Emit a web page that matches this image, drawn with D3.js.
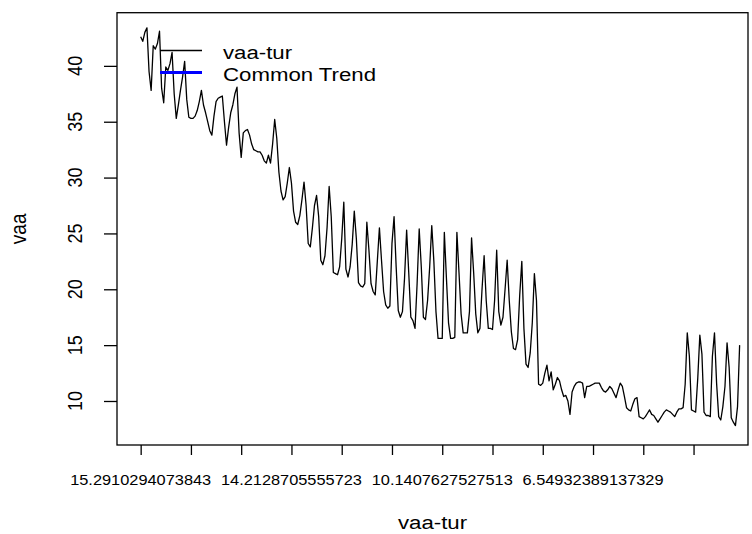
<!DOCTYPE html>
<html>
<head>
<meta charset="utf-8">
<script src="https://cdn.jsdelivr.net/npm/d3@7"></script>
<style>
  body { margin: 0; background: #fff; }
  text { font-family: "Liberation Sans", Arial, sans-serif; fill: #000; }
</style>
</head>
<body>
<div id="graphic"></div>
<script>
// series, one value per step
var vaa = [
  42.6, 42.2, 43.0, 43.4, 39.5, 37.8, 41.8, 41.5, 42.0, 43.1,
  38.0, 36.7, 39.9, 39.6, 40.2, 41.2, 37.5, 35.3, 36.5, 37.8,
  39.0, 40.4, 37.0, 35.4, 35.3, 35.3, 35.5, 36.0, 36.8, 37.8,
  36.5, 35.8, 35.0, 34.2, 33.8, 35.5, 36.8, 37.1, 37.2, 37.3,
  35.0, 32.9, 34.5, 35.8, 36.5, 37.5, 38.1, 34.0, 31.8, 34.0,
  34.2, 34.3, 33.8, 33.0, 32.5, 32.4, 32.3, 32.3, 32.0, 31.5,
  31.3, 32.0, 31.3, 33.0, 35.2, 33.5, 30.5, 28.8, 28.0, 28.3,
  29.5, 30.9, 29.5, 27.0, 26.0, 25.8, 26.6, 28.0, 29.6, 27.5,
  24.1, 23.8, 25.5, 27.5, 28.4, 26.5, 22.6, 22.2, 23.0, 25.5,
  29.2, 26.5, 21.5, 21.4, 21.3, 22.0, 24.5, 27.8, 21.8, 21.1,
  22.0, 24.0, 27.0, 24.5, 20.6, 20.3, 20.2, 20.5, 26.0, 23.5,
  20.5, 19.8, 19.5, 22.5, 25.5, 22.6, 19.8, 18.6, 18.3, 18.5,
  24.1, 26.5, 22.0, 18.1, 17.5, 18.0, 21.0, 25.3, 21.5, 17.5,
  17.2, 16.5, 20.5, 25.4, 22.0, 17.5, 17.3, 19.0, 22.0, 25.7,
  22.5, 18.0, 15.6, 15.6, 15.6, 25.1, 21.0, 17.0, 15.6, 15.6,
  15.7, 25.1, 21.5, 17.8, 16.1, 16.1, 16.1, 18.0, 24.6, 21.5,
  17.8, 16.1, 16.5, 20.0, 23.0, 19.0, 16.5, 16.5, 16.4, 19.0,
  23.5, 18.0, 16.8, 17.5, 20.0, 22.6, 19.0, 16.2, 14.7, 14.6,
  15.5, 19.5, 22.5, 16.5, 13.3, 13.0, 14.3, 17.0, 21.4, 19.0,
  11.5, 11.4, 11.6, 12.5, 13.2, 11.8, 12.6, 11.0, 11.5, 12.1,
  11.8, 11.0, 10.4, 10.5, 10.0, 8.8, 10.8, 11.3, 11.6, 11.7,
  11.7, 11.6, 10.3, 11.3, 11.3, 11.4, 11.5, 11.6, 11.6, 11.6,
  11.2, 10.9, 10.8, 11.0, 11.3, 11.1, 10.7, 10.3, 11.0, 11.6,
  11.3, 10.4, 9.4, 9.2, 9.1, 9.7, 10.2, 10.3, 8.6, 8.5,
  8.4, 8.6, 8.9, 9.2, 8.8, 8.7, 8.4, 8.1, 8.4, 8.7,
  9.0, 9.2, 9.1, 9.0, 8.8, 8.6, 9.0, 9.3, 9.3, 9.4,
  11.5, 16.1, 14.0, 9.2, 9.1, 9.0, 12.0, 15.9, 14.2, 9.0,
  8.7, 8.7, 8.6, 14.0, 16.1, 11.6, 8.6, 8.3, 9.5, 11.3,
  15.2, 13.0, 8.5, 8.1, 7.8, 9.5, 15.0
];

// x ticks (step index) and the labels R managed to print
var xTicks = [1, 25, 49, 73, 97, 121, 145, 169, 193, 217, 241, 265];
var xLabelAt = [1, 73, 145, 217];
var xLabels = ["15.2910294073843", "14.2128705555723", "10.1407627527513", "6.54932389137329"];
var yTicks = [10, 15, 20, 25, 30, 35, 40];
var legendNames = ["vaa-tur", "Common Trend"];
var legendColors = ["#000000", "#0000ff"];

var xlim = [-10.3, 291],
    ylim = [6.06, 44.76];

var W = 752, H = 534;
var box = {left: 117, right: 748, top: 12.7, bottom: 445};
var SX = 1.17; // the original image is a little wider than tall

var svg = d3.select("#graphic").append("svg")
    .attr("width", W)
    .attr("height", H);

svg.append("rect").attr("width", W).attr("height", H).attr("fill", "#fff");

var x = d3.scaleLinear().domain(xlim).range([box.left, box.right]);
var y = d3.scaleLinear().domain(ylim).range([box.bottom, box.top]);

function label(g, px, py, str, size, rot) {
    return g.append("text")
        .attr("transform", "translate(" + px + "," + py + ") scale(" + SX + ",1)" + (rot ? " rotate(-90)" : ""))
        .attr("text-anchor", "middle")
        .style("font-size", size + "px")
        .text(str);
}

//the series
var line = d3.line()
    .x(function (d, i) { return x(i + 1); })
    .y(function (d) { return y(d); });

svg.append("path")
    .datum(vaa)
    .attr("fill", "none")
    .attr("stroke", "#000")
    .attr("stroke-width", 1.3)
    .attr("stroke-linejoin", "round")
    .attr("d", line);

//frame
svg.append("rect")
    .attr("x", box.left)
    .attr("y", box.top)
    .attr("width", box.right - box.left)
    .attr("height", box.bottom - box.top)
    .attr("fill", "none")
    .attr("stroke", "#000")
    .attr("stroke-width", 1.3);

//bottom axis, labels done by hand so that only some show
var gx = svg.append("g")
    .attr("transform", "translate(0," + box.bottom + ")")
    .call(d3.axisBottom(x).tickValues(xTicks).tickSize(10).tickFormat(""));
gx.select(".domain").remove();
gx.selectAll("line").attr("stroke", "#000").attr("stroke-width", 1.3);

xLabelAt.forEach(function (v, i) {
    label(svg, x(v), 485, xLabels[i], 14, false);
});

//left axis
var gy = svg.append("g")
    .attr("transform", "translate(" + box.left + ",0)")
    .call(d3.axisLeft(y).tickValues(yTicks).tickSize(13).tickFormat(""));
gy.select(".domain").remove();
gy.selectAll("line").attr("stroke", "#000").attr("stroke-width", 1.3);

yTicks.forEach(function (v) {
    label(svg, 82, y(v), v, 18, true);
});

//axis titles
label(svg, (box.left + box.right) / 2, 529, "vaa-tur", 19, false);
label(svg, 26, (box.top + box.bottom) / 2, "vaa", 19, true);

//legend
var leg = svg.append("g");
legendNames.forEach(function (name, i) {
    var ly = 50.5 + i * 22;
    leg.append("line")
        .attr("x1", 160).attr("x2", 202)
        .attr("y1", ly).attr("y2", ly)
        .attr("stroke", legendColors[i])
        .attr("stroke-width", i == 0 ? 1.3 : 2.8);
    leg.append("text")
        .attr("transform", "translate(223," + (ly + 8.5) + ") scale(" + SX + ",1)")
        .style("font-size", "19px")
        .text(name);
});
</script>
</body>
</html>
